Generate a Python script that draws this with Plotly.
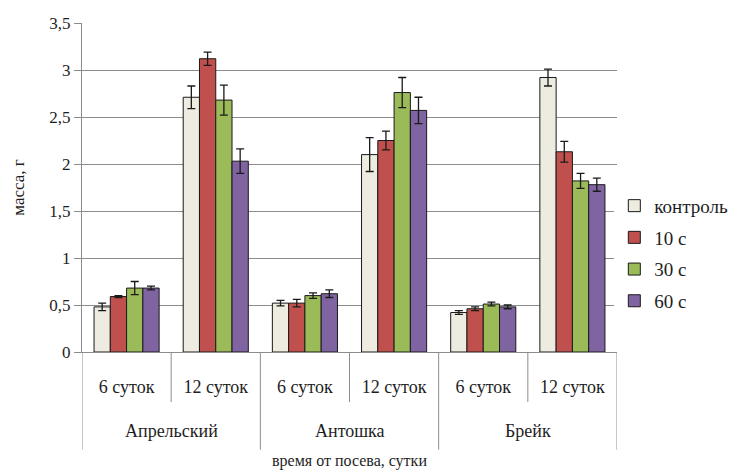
import plotly.graph_objects as go

varieties = ["Апрельский", "Апрельский", "Антошка", "Антошка", "Брейк", "Брейк"]
periods = ["6 суток", "12 суток", "6 суток", "12 суток", "6 суток", "12 суток"]

series = ["контроль", "10 с", "30 с", "60 с"]
colors = ["#EEECE1", "#C0504D", "#9BBB59", "#8064A2"]

control = [0.48, 2.71, 0.52, 2.10, 0.42, 2.92]
s10 = [0.59, 3.12, 0.52, 2.25, 0.46, 2.13]
s30 = [0.68, 2.68, 0.60, 2.76, 0.51, 1.82]
s60 = [0.68, 2.03, 0.62, 2.57, 0.48, 1.78]

err_control = [0.04, 0.12, 0.03, 0.18, 0.02, 0.09]
err_10 = [0.01, 0.07, 0.04, 0.10, 0.02, 0.11]
err_30 = [0.07, 0.16, 0.03, 0.16, 0.02, 0.08]
err_60 = [0.02, 0.13, 0.04, 0.14, 0.02, 0.07]

values = [control, s10, s30, s60]
errors = [err_control, err_10, err_30, err_60]

font = "'Liberation Serif', 'Times New Roman', serif"
grid = "#8C8C8C"
pos = list(range(len(periods)))

fig = go.Figure()
for name, col, v, e in zip(series, colors, values, errors):
    fig.add_trace(go.Bar(
        x=pos, y=v, name=name, legendgroup=name,
        marker=dict(color=col, line=dict(color="#1A1A1A", width=1)),
        error_y=dict(type="data", array=e, visible=True,
                     color="#1A1A1A", thickness=1.3, width=4),
    ))

# category separators (short between periods, long between varieties)
for i in range(len(pos) + 1):
    b = i - 0.5
    edge = i == 0 or i == len(pos) or varieties[i] != varieties[i - 1]
    fig.add_shape(type="line", xref="x", yref="paper", x0=b, x1=b,
                  y0=0, y1=-0.297 if edge else -0.152,
                  line=dict(color=grid, width=1))

# variety labels under the period labels
groups = list(dict.fromkeys(varieties))
for g in groups:
    idx = [i for i, v in enumerate(varieties) if v == g]
    fig.add_annotation(x=sum(idx) / len(idx), y=-0.24, xref="x", yref="paper",
                       text=g, showarrow=False, yanchor="middle",
                       font=dict(size=18))

fig.add_annotation(x=0.5, y=-0.332, xref="paper", yref="paper",
                   text="время от посева, сутки", showarrow=False,
                   yanchor="middle", font=dict(size=16))

fig.update_layout(
    width=742, height=474,
    margin=dict(l=74, r=133, t=15, b=130),
    paper_bgcolor="white", plot_bgcolor="white",
    barmode="group", bargap=0.27, bargroupgap=0,
    separators=", ",
    font=dict(family=font, size=17, color="#1E1E1E"),
    legend=dict(x=0.995, y=0.30, xanchor="left", yanchor="middle",
                font=dict(size=19), tracegroupgap=4, traceorder="grouped",
                itemwidth=30),
    showlegend=True,
)
fig.update_yaxes(
    range=[0, 3.5], dtick=0.5, showgrid=True, gridcolor=grid, gridwidth=1,
    showline=True, linecolor=grid, ticks="outside", ticklen=7,
    tickcolor=grid, zeroline=False, automargin=False,
    tickfont=dict(size=17),
    title=dict(text="масса, г", font=dict(size=17), standoff=20),
)
fig.update_xaxes(
    range=[-0.5, len(pos) - 0.5], tickvals=pos, ticktext=periods,
    showline=True, linecolor=grid, ticks="", showgrid=False, zeroline=False,
    ticklabelstandoff=18, automargin=False, tickfont=dict(size=18),
)
fig.write_html("out.html")
